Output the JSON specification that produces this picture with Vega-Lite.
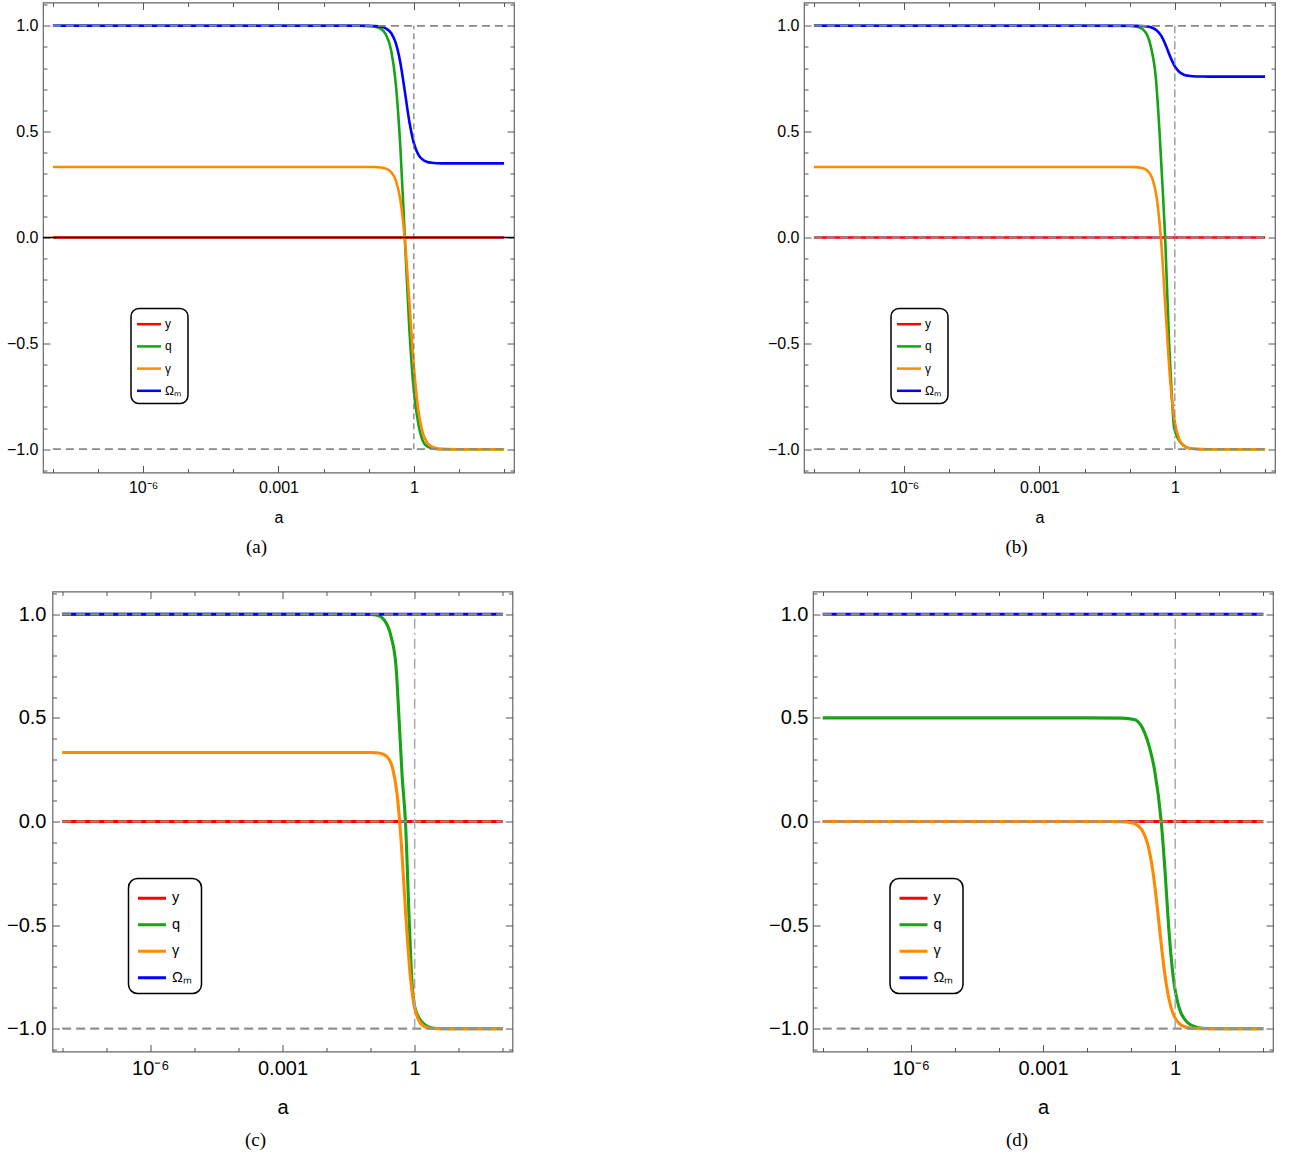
{
  "$schema": "https://vega.github.io/schema/vega-lite/v6.json",
  "background": "white",
  "padding": {"left": 4, "top": 0.5, "right": 5, "bottom": 5},
  "config": {"view": {"stroke": "#666", "strokeWidth": 1.2}, "font": "Liberation Sans", "legend": {"strokeWidth": 1.5}},
  "datasets": {
    "pa": [
      {"s":"y","a":1e-8,"v":0},{"s":"y","a":100,"v":0},
      {"s":"q","a":1e-8,"v":1},{"s":"q","a":0.01,"v":1},{"s":"q","a":0.031623,"v":1},{"s":"q","a":0.056234,"v":0.9999},{"s":"q","a":0.1,"v":0.9987},{"s":"q","a":0.13335,"v":0.996},{"s":"q","a":0.17783,"v":0.9875},{"s":"q","a":0.23714,"v":0.961},{"s":"q","a":0.31623,"v":0.881},{"s":"q","a":0.39811,"v":0.726},{"s":"q","a":0.50119,"v":0.431},{"s":"q","a":0.63096,"v":0},{"s":"q","a":0.79433,"v":-0.431},{"s":"q","a":1,"v":-0.726},{"s":"q","a":1.2589,"v":-0.881},{"s":"q","a":1.5849,"v":-0.961},{"s":"q","a":1.9953,"v":-0.9875},{"s":"q","a":2.5119,"v":-0.996},{"s":"q","a":3.1623,"v":-0.9987},{"s":"q","a":4.217,"v":-0.9997},{"s":"q","a":5.6234,"v":-1},{"s":"q","a":10,"v":-1},{"s":"q","a":100,"v":-1},
      {"s":"γ","a":1e-8,"v":0.3333},{"s":"γ","a":0.01,"v":0.3333},{"s":"γ","a":0.031623,"v":0.3333},{"s":"γ","a":0.056234,"v":0.3333},{"s":"γ","a":0.1,"v":0.3331},{"s":"γ","a":0.13335,"v":0.3327},{"s":"γ","a":0.17783,"v":0.331},{"s":"γ","a":0.23714,"v":0.326},{"s":"γ","a":0.31623,"v":0.3085},{"s":"γ","a":0.39811,"v":0.27},{"s":"γ","a":0.50119,"v":0.179},{"s":"γ","a":0.63096,"v":-0.009},{"s":"γ","a":0.79433,"v":-0.301},{"s":"γ","a":1,"v":-0.606},{"s":"γ","a":1.2589,"v":-0.817},{"s":"γ","a":1.5849,"v":-0.924},{"s":"γ","a":1.9953,"v":-0.97},{"s":"γ","a":2.5119,"v":-0.988},{"s":"γ","a":3.1623,"v":-0.996},{"s":"γ","a":4.217,"v":-0.999},{"s":"γ","a":5.6234,"v":-0.9996},{"s":"γ","a":10,"v":-1},{"s":"γ","a":100,"v":-1},
      {"s":"Ωₘ","a":1e-8,"v":1},{"s":"Ωₘ","a":0.01,"v":1},{"s":"Ωₘ","a":0.031623,"v":1},{"s":"Ωₘ","a":0.056234,"v":1},{"s":"Ωₘ","a":0.1,"v":0.9996},{"s":"Ωₘ","a":0.13335,"v":0.9988},{"s":"Ωₘ","a":0.17783,"v":0.9963},{"s":"Ωₘ","a":0.23714,"v":0.9884},{"s":"Ωₘ","a":0.31623,"v":0.9646},{"s":"Ωₘ","a":0.39811,"v":0.918},{"s":"Ωₘ","a":0.50119,"v":0.827},{"s":"Ωₘ","a":0.63096,"v":0.69},{"s":"Ωₘ","a":0.79433,"v":0.548},{"s":"Ωₘ","a":1,"v":0.446},{"s":"Ωₘ","a":1.2589,"v":0.392},{"s":"Ωₘ","a":1.5849,"v":0.367},{"s":"Ωₘ","a":1.9953,"v":0.357},{"s":"Ωₘ","a":2.5119,"v":0.353},{"s":"Ωₘ","a":3.1623,"v":0.351},{"s":"Ωₘ","a":4.217,"v":0.3503},{"s":"Ωₘ","a":5.6234,"v":0.3501},{"s":"Ωₘ","a":10,"v":0.35},{"s":"Ωₘ","a":100,"v":0.35}
    ],
    "pb": [
      {"s":"y","a":1e-8,"v":0},{"s":"y","a":100,"v":0},
      {"s":"q","a":1e-8,"v":1},{"s":"q","a":0.01,"v":1},{"s":"q","a":0.1,"v":0.999},{"s":"q","a":0.15849,"v":0.993},{"s":"q","a":0.22387,"v":0.97},{"s":"q","a":0.29512,"v":0.9},{"s":"q","a":0.38019,"v":0.75},{"s":"q","a":0.45709,"v":0.5},{"s":"q","a":0.53088,"v":0.25},{"s":"q","a":0.60954,"v":0},{"s":"q","a":0.74645,"v":-0.5},{"s":"q","a":0.85704,"v":-0.75},{"s":"q","a":0.96605,"v":-0.9},{"s":"q","a":1.349,"v":-0.97},{"s":"q","a":1.7783,"v":-0.99},{"s":"q","a":2.4547,"v":-0.998},{"s":"q","a":3.9811,"v":-1},{"s":"q","a":100,"v":-1},
      {"s":"γ","a":1e-8,"v":0.3333},{"s":"γ","a":0.01,"v":0.3333},{"s":"γ","a":0.031623,"v":0.3333},{"s":"γ","a":0.056234,"v":0.3333},{"s":"γ","a":0.1,"v":0.3331},{"s":"γ","a":0.13335,"v":0.3324},{"s":"γ","a":0.17783,"v":0.3296},{"s":"γ","a":0.23714,"v":0.3189},{"s":"γ","a":0.31623,"v":0.279},{"s":"γ","a":0.39811,"v":0.185},{"s":"γ","a":0.50119,"v":-0.027},{"s":"γ","a":0.63096,"v":-0.362},{"s":"γ","a":0.79433,"v":-0.684},{"s":"γ","a":1,"v":-0.873},{"s":"γ","a":1.2589,"v":-0.954},{"s":"γ","a":1.5849,"v":-0.984},{"s":"γ","a":1.9953,"v":-0.9946},{"s":"γ","a":2.5119,"v":-0.998},{"s":"γ","a":3.1623,"v":-0.9994},{"s":"γ","a":4.217,"v":-0.9998},{"s":"γ","a":5.6234,"v":-1},{"s":"γ","a":10,"v":-1},{"s":"γ","a":100,"v":-1},
      {"s":"Ωₘ","a":1e-8,"v":1},{"s":"Ωₘ","a":0.01,"v":1},{"s":"Ωₘ","a":0.031623,"v":1},{"s":"Ωₘ","a":0.056234,"v":1},{"s":"Ωₘ","a":0.1,"v":0.9999},{"s":"Ωₘ","a":0.13335,"v":0.9997},{"s":"Ωₘ","a":0.17783,"v":0.999},{"s":"Ωₘ","a":0.23714,"v":0.997},{"s":"Ωₘ","a":0.31623,"v":0.9908},{"s":"Ωₘ","a":0.39811,"v":0.978},{"s":"Ωₘ","a":0.50119,"v":0.952},{"s":"Ωₘ","a":0.63096,"v":0.907},{"s":"Ωₘ","a":0.79433,"v":0.853},{"s":"Ωₘ","a":1,"v":0.808},{"s":"Ωₘ","a":1.2589,"v":0.782},{"s":"Ωₘ","a":1.5849,"v":0.769},{"s":"Ωₘ","a":1.9953,"v":0.764},{"s":"Ωₘ","a":2.5119,"v":0.7615},{"s":"Ωₘ","a":3.1623,"v":0.7606},{"s":"Ωₘ","a":4.217,"v":0.7602},{"s":"Ωₘ","a":5.6234,"v":0.7601},{"s":"Ωₘ","a":10,"v":0.76},{"s":"Ωₘ","a":100,"v":0.76}
    ],
    "pc": [
      {"s":"y","a":1e-8,"v":0},{"s":"y","a":100,"v":0},
      {"s":"q","a":1e-8,"v":1},{"s":"q","a":0.01,"v":1},{"s":"q","a":0.1,"v":0.999},{"s":"q","a":0.14125,"v":0.995},{"s":"q","a":0.19953,"v":0.975},{"s":"q","a":0.2851,"v":0.9},{"s":"q","a":0.3767,"v":0.75},{"s":"q","a":0.44055,"v":0.5},{"s":"q","a":0.5188,"v":0.22},{"s":"q","a":0.6166,"v":0},{"s":"q","a":0.75858,"v":-0.5},{"s":"q","a":0.85507,"v":-0.75},{"s":"q","a":1.0163,"v":-0.9},{"s":"q","a":1.4928,"v":-0.97},{"s":"q","a":1.9953,"v":-0.99},{"s":"q","a":2.7542,"v":-0.998},{"s":"q","a":3.9811,"v":-1},{"s":"q","a":100,"v":-1},
      {"s":"γ","a":1e-8,"v":0.3333},{"s":"γ","a":0.01,"v":0.3333},{"s":"γ","a":0.031623,"v":0.3333},{"s":"γ","a":0.056234,"v":0.3333},{"s":"γ","a":0.1,"v":0.3329},{"s":"γ","a":0.13335,"v":0.3318},{"s":"γ","a":0.17783,"v":0.3276},{"s":"γ","a":0.23714,"v":0.312},{"s":"γ","a":0.31623,"v":0.2566},{"s":"γ","a":0.39811,"v":0.1336},{"s":"γ","a":0.50119,"v":-0.116},{"s":"γ","a":0.63096,"v":-0.459},{"s":"γ","a":0.79433,"v":-0.745},{"s":"γ","a":1,"v":-0.899},{"s":"γ","a":1.2589,"v":-0.963},{"s":"γ","a":1.5849,"v":-0.987},{"s":"γ","a":1.9953,"v":-0.9954},{"s":"γ","a":2.5119,"v":-0.998},{"s":"γ","a":3.1623,"v":-0.9995},{"s":"γ","a":4.217,"v":-0.9999},{"s":"γ","a":5.6234,"v":-1},{"s":"γ","a":10,"v":-1},{"s":"γ","a":100,"v":-1},
      {"s":"Ωₘ","a":1e-8,"v":1},{"s":"Ωₘ","a":100,"v":1}
    ],
    "pd": [
      {"s":"y","a":1e-8,"v":0},{"s":"y","a":100,"v":0},
      {"s":"q","a":1e-8,"v":0.5},{"s":"q","a":0.01,"v":0.5},{"s":"q","a":0.063096,"v":0.499},{"s":"q","a":0.11749,"v":0.492},{"s":"q","a":0.18197,"v":0.45},{"s":"q","a":0.26669,"v":0.35},{"s":"q","a":0.33963,"v":0.25},{"s":"q","a":0.48195,"v":0},{"s":"q","a":0.59293,"v":-0.25},{"s":"q","a":0.70632,"v":-0.5},{"s":"q","a":0.90157,"v":-0.75},{"s":"q","a":1.2331,"v":-0.9},{"s":"q","a":1.9055,"v":-0.97},{"s":"q","a":2.8184,"v":-0.99},{"s":"q","a":4.1687,"v":-0.998},{"s":"q","a":6.3096,"v":-1},{"s":"q","a":100,"v":-1},
      {"s":"γ","a":1e-8,"v":0},{"s":"γ","a":0.01,"v":0},{"s":"γ","a":0.031623,"v":-0.0001},{"s":"γ","a":0.056234,"v":-0.0008},{"s":"γ","a":0.1,"v":-0.0059},{"s":"γ","a":0.13335,"v":-0.0159},{"s":"γ","a":0.17783,"v":-0.0423},{"s":"γ","a":0.23714,"v":-0.108},{"s":"γ","a":0.31623,"v":-0.249},{"s":"γ","a":0.39811,"v":-0.426},{"s":"γ","a":0.50119,"v":-0.624},{"s":"γ","a":0.63096,"v":-0.788},{"s":"γ","a":0.79433,"v":-0.893},{"s":"γ","a":1,"v":-0.949},{"s":"γ","a":1.2589,"v":-0.977},{"s":"γ","a":1.5849,"v":-0.9894},{"s":"γ","a":1.9953,"v":-0.9952},{"s":"γ","a":2.5119,"v":-0.9979},{"s":"γ","a":3.1623,"v":-0.999},{"s":"γ","a":4.217,"v":-0.9996},{"s":"γ","a":5.6234,"v":-1},{"s":"γ","a":10,"v":-1},{"s":"γ","a":100,"v":-1},
      {"s":"Ωₘ","a":1e-8,"v":1},{"s":"Ωₘ","a":100,"v":1}
    ]
  },
  "spacing": 31,
  "bounds": "full",
  "resolve": {"scale": {"color": "independent"}, "legend": {"color": "independent"}},
  "vconcat": [
    {
      "spacing": 250,
      "bounds": "full",
      "resolve": {"scale": {"color": "independent"}, "legend": {"color": "independent"}},
      "hconcat": [
        {
          "spacing": 0,
          "bounds": "full",
          "resolve": {"scale": {"color": "independent"}, "legend": {"color": "independent"}},
          "hconcat": [
            {"width": 1, "height": 1, "view": {"stroke": null, "fill": null}, "data": {"values": []}, "mark": {"type": "point", "size": 0, "opacity": 0}},
            {
              "width": 471, "height": 470,
              "title": {"text": "(a)", "orient": "bottom", "frame": "group", "anchor": "middle", "dx": -22, "offset": 13, "font": "Liberation Serif", "fontSize": 19, "fontWeight": "normal", "color": "black"},
              "resolve": {"axis": {"x": "independent", "y": "independent"}},
              "layer": [
                {
                  "data": {"name": "pa"},
                  "mark": {"type": "line", "strokeWidth": 2.6, "interpolate": "monotone", "clip": true},
                  "encoding": {
                    "x": {"field": "a", "type": "quantitative", "scale": {"type": "log", "domain": [6.0256e-9, 165.96], "nice": false},
                      "axis": {"orient": "bottom", "values": [1e-8,1e-7,1e-6,1e-5,1e-4,0.001,0.01,0.1,1,10,100],
                        "labelExpr": "(datum.value > 9e-7 && datum.value < 1.1e-6) ? '10⁻⁶' : ((datum.value > 9e-4 && datum.value < 1.1e-3) ? '0.001' : ((datum.value > 0.9 && datum.value < 1.1) ? '1' : ''))",
                        "tickSize": {"condition": {"test": "(datum.value > 9e-7 && datum.value < 1.1e-6) || (datum.value > 9e-4 && datum.value < 1.1e-3) || (datum.value > 0.9 && datum.value < 1.1)", "value": -7}, "value": -4},
                        "labelFontSize": {"condition": {"test": "(datum.value > 9e-7 && datum.value < 1.1e-6) || (datum.value > 9e-4 && datum.value < 1.1e-3) || (datum.value > 0.9 && datum.value < 1.1)", "value": 16}, "value": 0},
                        "tickColor": "#555", "tickWidth": 1, "domain": false, "grid": false,
                        "labelFont": "Liberation Sans", "labelColor": "black", "labelPadding": 13.5, "labelOverlap": false, "labelFlush": false,
                        "title": "a", "titleFont": "Liberation Sans", "titleFontSize": 16, "titleFontWeight": "normal", "titleColor": "black", "titlePadding": 14}},
                    "y": {"field": "v", "type": "quantitative", "scale": {"domain": [-1.11, 1.11], "nice": false, "zero": false},
                      "axis": {"orient": "left", "values": [-1.1,-1,-0.9,-0.8,-0.7,-0.6,-0.5,-0.4,-0.3,-0.2,-0.1,0,0.1,0.2,0.3,0.4,0.5,0.6,0.7,0.8,0.9,1,1.1],
                        "labelExpr": "abs(datum.value*2 - round(datum.value*2)) < 0.001 ? (datum.value < -0.01 ? '−' + format(-datum.value, '.1f') : format(abs(datum.value), '.1f')) : ''",
                        "tickSize": {"condition": {"test": "abs(datum.value*2 - round(datum.value*2)) < 0.001", "value": -7}, "value": -4},
                        "labelFontSize": {"condition": {"test": "abs(datum.value*2 - round(datum.value*2)) < 0.001", "value": 16}, "value": 0},
                        "tickColor": "#555", "tickWidth": 1, "domain": false, "grid": false,
                        "labelFont": "Liberation Sans", "labelColor": "black", "labelPadding": 12, "labelOverlap": false, "labelFlush": false, "title": null}},
                    "color": {"field": "s", "type": "nominal",
                      "scale": {"domain": ["y", "q", "γ", "Ωₘ"], "range": ["#ff0000", "#16a316", "#ff8a00", "#0000ff"]},
                      "legend": {"orient": "none", "legendX": 88, "legendY": 306, "title": null, "fillColor": "white", "strokeColor": "black", "cornerRadius": 8, "padding": 6.7,
                        "symbolType": "M-1.6,0H1.6", "symbolSize": 225, "symbolStrokeWidth": 2.5, "symbolOffset": 2.3, "labelOffset": 7, "rowPadding": 7.2,
                        "labelFont": "Liberation Sans", "labelFontSize": 12, "labelColor": "black"}}
                  }
                },
                {
                  "data": {"values": [{"a1": 1e-8, "a2": 100, "v": 1}, {"a1": 1e-8, "a2": 100, "v": -1}]},
                  "mark": {"type": "rule", "color": "#888", "strokeWidth": 1.8, "strokeDash": [8, 5]},
                  "encoding": {
                    "x": {"field": "a1", "type": "quantitative",
                      "axis": {"orient": "top", "values": [1e-8,1e-7,1e-6,1e-5,1e-4,0.001,0.01,0.1,1,10,100], "labels": false,
                        "tickSize": {"condition": {"test": "(datum.value > 9e-7 && datum.value < 1.1e-6) || (datum.value > 9e-4 && datum.value < 1.1e-3) || (datum.value > 0.9 && datum.value < 1.1)", "value": -7}, "value": -4},
                        "tickColor": "#555", "domain": false, "grid": false, "title": null}},
                    "x2": {"field": "a2"},
                    "y": {"field": "v", "type": "quantitative",
                      "axis": {"orient": "right", "values": [-1.1,-1,-0.9,-0.8,-0.7,-0.6,-0.5,-0.4,-0.3,-0.2,-0.1,0,0.1,0.2,0.3,0.4,0.5,0.6,0.7,0.8,0.9,1,1.1], "labels": false,
                        "tickSize": {"condition": {"test": "abs(datum.value*2 - round(datum.value*2)) < 0.001", "value": -7}, "value": -4},
                        "tickColor": "#555", "domain": false, "grid": false, "title": null}}
                  }
                },
                {
                  "data": {"values": [{}]},
                  "mark": {"type": "rule", "color": "#777", "strokeWidth": 1.2, "strokeDash": [6, 4]},
                  "encoding": {"x": {"datum": 1, "type": "quantitative", "axis": null}, "y": {"datum": -1, "type": "quantitative", "axis": null}, "y2": {"datum": 1}}
                },
                {
                  "data": {"values": [{}]},
                  "mark": {"type": "rule", "color": "black", "strokeWidth": 1.4},
                  "encoding": {"y": {"datum": 0, "type": "quantitative", "axis": null}}
                }
              ]
            }
          ]
        },
        {
          "width": 471, "height": 470,
          "title": {"text": "(b)", "orient": "bottom", "frame": "group", "anchor": "middle", "dx": -23, "offset": 13, "font": "Liberation Serif", "fontSize": 19, "fontWeight": "normal", "color": "black"},
          "resolve": {"axis": {"x": "independent", "y": "independent"}},
          "layer": [
            {
              "data": {"name": "pb"},
              "mark": {"type": "line", "strokeWidth": 2.6, "interpolate": "monotone", "clip": true},
              "encoding": {
                "x": {"field": "a", "type": "quantitative", "scale": {"type": "log", "domain": [6.0256e-9, 165.96], "nice": false},
                  "axis": {"orient": "bottom", "values": [1e-8,1e-7,1e-6,1e-5,1e-4,0.001,0.01,0.1,1,10,100],
                    "labelExpr": "(datum.value > 9e-7 && datum.value < 1.1e-6) ? '10⁻⁶' : ((datum.value > 9e-4 && datum.value < 1.1e-3) ? '0.001' : ((datum.value > 0.9 && datum.value < 1.1) ? '1' : ''))",
                    "tickSize": {"condition": {"test": "(datum.value > 9e-7 && datum.value < 1.1e-6) || (datum.value > 9e-4 && datum.value < 1.1e-3) || (datum.value > 0.9 && datum.value < 1.1)", "value": -7}, "value": -4},
                    "labelFontSize": {"condition": {"test": "(datum.value > 9e-7 && datum.value < 1.1e-6) || (datum.value > 9e-4 && datum.value < 1.1e-3) || (datum.value > 0.9 && datum.value < 1.1)", "value": 16}, "value": 0},
                    "tickColor": "#555", "tickWidth": 1, "domain": false, "grid": false,
                    "labelFont": "Liberation Sans", "labelColor": "black", "labelPadding": 13.5, "labelOverlap": false, "labelFlush": false,
                    "title": "a", "titleFont": "Liberation Sans", "titleFontSize": 16, "titleFontWeight": "normal", "titleColor": "black", "titlePadding": 14}},
                "y": {"field": "v", "type": "quantitative", "scale": {"domain": [-1.11, 1.11], "nice": false, "zero": false},
                  "axis": {"orient": "left", "values": [-1.1,-1,-0.9,-0.8,-0.7,-0.6,-0.5,-0.4,-0.3,-0.2,-0.1,0,0.1,0.2,0.3,0.4,0.5,0.6,0.7,0.8,0.9,1,1.1],
                    "labelExpr": "abs(datum.value*2 - round(datum.value*2)) < 0.001 ? (datum.value < -0.01 ? '−' + format(-datum.value, '.1f') : format(abs(datum.value), '.1f')) : ''",
                    "tickSize": {"condition": {"test": "abs(datum.value*2 - round(datum.value*2)) < 0.001", "value": -7}, "value": -4},
                    "labelFontSize": {"condition": {"test": "abs(datum.value*2 - round(datum.value*2)) < 0.001", "value": 16}, "value": 0},
                    "tickColor": "#555", "tickWidth": 1, "domain": false, "grid": false,
                    "labelFont": "Liberation Sans", "labelColor": "black", "labelPadding": 12, "labelOverlap": false, "labelFlush": false, "title": null}},
                "color": {"field": "s", "type": "nominal",
                  "scale": {"domain": ["y", "q", "γ", "Ωₘ"], "range": ["#ff0000", "#16a316", "#ff8a00", "#0000ff"]},
                  "legend": {"orient": "none", "legendX": 87, "legendY": 306, "title": null, "fillColor": "white", "strokeColor": "black", "cornerRadius": 8, "padding": 6.7,
                    "symbolType": "M-1.6,0H1.6", "symbolSize": 225, "symbolStrokeWidth": 2.5, "symbolOffset": 2.3, "labelOffset": 7, "rowPadding": 7.2,
                    "labelFont": "Liberation Sans", "labelFontSize": 12, "labelColor": "black"}}
              }
            },
            {
              "data": {"values": [{"a1": 1e-8, "a2": 100, "v": 1}, {"a1": 1e-8, "a2": 100, "v": 0}, {"a1": 1e-8, "a2": 100, "v": -1}]},
              "mark": {"type": "rule", "color": "#888", "strokeWidth": 1.8, "strokeDash": [8, 5]},
              "encoding": {
                "x": {"field": "a1", "type": "quantitative",
                  "axis": {"orient": "top", "values": [1e-8,1e-7,1e-6,1e-5,1e-4,0.001,0.01,0.1,1,10,100], "labels": false,
                    "tickSize": {"condition": {"test": "(datum.value > 9e-7 && datum.value < 1.1e-6) || (datum.value > 9e-4 && datum.value < 1.1e-3) || (datum.value > 0.9 && datum.value < 1.1)", "value": -7}, "value": -4},
                    "tickColor": "#555", "domain": false, "grid": false, "title": null}},
                "x2": {"field": "a2"},
                "y": {"field": "v", "type": "quantitative",
                  "axis": {"orient": "right", "values": [-1.1,-1,-0.9,-0.8,-0.7,-0.6,-0.5,-0.4,-0.3,-0.2,-0.1,0,0.1,0.2,0.3,0.4,0.5,0.6,0.7,0.8,0.9,1,1.1], "labels": false,
                    "tickSize": {"condition": {"test": "abs(datum.value*2 - round(datum.value*2)) < 0.001", "value": -7}, "value": -4},
                    "tickColor": "#555", "domain": false, "grid": false, "title": null}}
              }
            },
            {
              "data": {"values": [{}]},
              "mark": {"type": "rule", "color": "#888", "strokeWidth": 1.2, "strokeDash": [8, 3, 2, 3]},
              "encoding": {"x": {"datum": 1, "type": "quantitative", "axis": null}, "y": {"datum": -1, "type": "quantitative", "axis": null}, "y2": {"datum": 1}}
            }
          ]
        }
      ]
    },
    {
      "spacing": 253,
      "bounds": "full",
      "resolve": {"scale": {"color": "independent"}, "legend": {"color": "independent"}},
      "hconcat": [
        {
          "spacing": 0.5,
          "bounds": "full",
          "resolve": {"scale": {"color": "independent"}, "legend": {"color": "independent"}},
          "hconcat": [
            {"width": 1, "height": 1, "view": {"stroke": null, "fill": null}, "data": {"values": []}, "mark": {"type": "point", "size": 0, "opacity": 0}},
            {
              "width": 460, "height": 460,
              "title": {"text": "(c)", "orient": "bottom", "frame": "group", "anchor": "middle", "dx": -27, "offset": 13, "font": "Liberation Serif", "fontSize": 19, "fontWeight": "normal", "color": "black"},
              "resolve": {"axis": {"x": "independent", "y": "independent"}},
              "layer": [
                {
                  "data": {"name": "pc"},
                  "mark": {"type": "line", "strokeWidth": 3.1, "interpolate": "monotone", "clip": true},
                  "encoding": {
                    "x": {"field": "a", "type": "quantitative", "scale": {"type": "log", "domain": [6.0256e-9, 165.96], "nice": false},
                      "axis": {"orient": "bottom", "values": [1e-8,1e-7,1e-6,1e-5,1e-4,0.001,0.01,0.1,1,10,100],
                        "labelExpr": "(datum.value > 9e-7 && datum.value < 1.1e-6) ? '10⁻⁶' : ((datum.value > 9e-4 && datum.value < 1.1e-3) ? '0.001' : ((datum.value > 0.9 && datum.value < 1.1) ? '1' : ''))",
                        "tickSize": {"condition": {"test": "(datum.value > 9e-7 && datum.value < 1.1e-6) || (datum.value > 9e-4 && datum.value < 1.1e-3) || (datum.value > 0.9 && datum.value < 1.1)", "value": -7}, "value": -4},
                        "labelFontSize": {"condition": {"test": "(datum.value > 9e-7 && datum.value < 1.1e-6) || (datum.value > 9e-4 && datum.value < 1.1e-3) || (datum.value > 0.9 && datum.value < 1.1)", "value": 20}, "value": 0},
                        "tickColor": "#555", "tickWidth": 1, "domain": false, "grid": false,
                        "labelFont": "Liberation Sans", "labelColor": "black", "labelPadding": 14, "labelOverlap": false, "labelFlush": false,
                        "title": "a", "titleFont": "Liberation Sans", "titleFontSize": 20, "titleFontWeight": "normal", "titleColor": "black", "titlePadding": 19}},
                    "y": {"field": "v", "type": "quantitative", "scale": {"domain": [-1.11, 1.11], "nice": false, "zero": false},
                      "axis": {"orient": "left", "values": [-1.1,-1,-0.9,-0.8,-0.7,-0.6,-0.5,-0.4,-0.3,-0.2,-0.1,0,0.1,0.2,0.3,0.4,0.5,0.6,0.7,0.8,0.9,1,1.1],
                        "labelExpr": "abs(datum.value*2 - round(datum.value*2)) < 0.001 ? (datum.value < -0.01 ? '−' + format(-datum.value, '.1f') : format(abs(datum.value), '.1f')) : ''",
                        "tickSize": {"condition": {"test": "abs(datum.value*2 - round(datum.value*2)) < 0.001", "value": -7}, "value": -4},
                        "labelFontSize": {"condition": {"test": "abs(datum.value*2 - round(datum.value*2)) < 0.001", "value": 20}, "value": 0},
                        "tickColor": "#555", "tickWidth": 1, "domain": false, "grid": false,
                        "labelFont": "Liberation Sans", "labelColor": "black", "labelPadding": 13.5, "labelOverlap": false, "labelFlush": false, "title": null}},
                    "color": {"field": "s", "type": "nominal",
                      "scale": {"domain": ["y", "q", "γ", "Ωₘ"], "range": ["#ff0000", "#16a316", "#ff8a00", "#0000ff"]},
                      "legend": {"orient": "none", "legendX": 76, "legendY": 287, "title": null, "fillColor": "white", "strokeColor": "black", "cornerRadius": 9, "padding": 9.25,
                        "symbolType": "M-1.6,0H1.6", "symbolSize": 306, "symbolStrokeWidth": 3, "symbolOffset": 3.75, "labelOffset": 9.5, "rowPadding": 9.5,
                        "labelFont": "Liberation Sans", "labelFontSize": 14.5, "labelColor": "black"}}
                  }
                },
                {
                  "data": {"values": [{"a1": 1e-8, "a2": 100, "v": 1}, {"a1": 1e-8, "a2": 100, "v": 0}, {"a1": 1e-8, "a2": 100, "v": -1}]},
                  "mark": {"type": "rule", "color": "#909090", "strokeWidth": 2.2, "strokeDash": [9, 5]},
                  "encoding": {
                    "x": {"field": "a1", "type": "quantitative",
                      "axis": {"orient": "top", "values": [1e-8,1e-7,1e-6,1e-5,1e-4,0.001,0.01,0.1,1,10,100], "labels": false,
                        "tickSize": {"condition": {"test": "(datum.value > 9e-7 && datum.value < 1.1e-6) || (datum.value > 9e-4 && datum.value < 1.1e-3) || (datum.value > 0.9 && datum.value < 1.1)", "value": -7}, "value": -4},
                        "tickColor": "#555", "domain": false, "grid": false, "title": null}},
                    "x2": {"field": "a2"},
                    "y": {"field": "v", "type": "quantitative",
                      "axis": {"orient": "right", "values": [-1.1,-1,-0.9,-0.8,-0.7,-0.6,-0.5,-0.4,-0.3,-0.2,-0.1,0,0.1,0.2,0.3,0.4,0.5,0.6,0.7,0.8,0.9,1,1.1], "labels": false,
                        "tickSize": {"condition": {"test": "abs(datum.value*2 - round(datum.value*2)) < 0.001", "value": -7}, "value": -4},
                        "tickColor": "#555", "domain": false, "grid": false, "title": null}}
                  }
                },
                {
                  "data": {"values": [{}]},
                  "mark": {"type": "rule", "color": "#aaa", "strokeWidth": 1.5, "strokeDash": [10, 4, 2, 4]},
                  "encoding": {"x": {"datum": 1, "type": "quantitative", "axis": null}, "y": {"datum": -1, "type": "quantitative", "axis": null}, "y2": {"datum": 1}}
                }
              ]
            }
          ]
        },
        {
          "width": 460, "height": 460,
          "title": {"text": "(d)", "orient": "bottom", "frame": "group", "anchor": "middle", "dx": -26, "offset": 13, "font": "Liberation Serif", "fontSize": 19, "fontWeight": "normal", "color": "black"},
          "resolve": {"axis": {"x": "independent", "y": "independent"}},
          "layer": [
            {
              "data": {"name": "pd"},
              "mark": {"type": "line", "strokeWidth": 3.1, "interpolate": "monotone", "clip": true},
              "encoding": {
                "x": {"field": "a", "type": "quantitative", "scale": {"type": "log", "domain": [6.0256e-9, 165.96], "nice": false},
                  "axis": {"orient": "bottom", "values": [1e-8,1e-7,1e-6,1e-5,1e-4,0.001,0.01,0.1,1,10,100],
                    "labelExpr": "(datum.value > 9e-7 && datum.value < 1.1e-6) ? '10⁻⁶' : ((datum.value > 9e-4 && datum.value < 1.1e-3) ? '0.001' : ((datum.value > 0.9 && datum.value < 1.1) ? '1' : ''))",
                    "tickSize": {"condition": {"test": "(datum.value > 9e-7 && datum.value < 1.1e-6) || (datum.value > 9e-4 && datum.value < 1.1e-3) || (datum.value > 0.9 && datum.value < 1.1)", "value": -7}, "value": -4},
                    "labelFontSize": {"condition": {"test": "(datum.value > 9e-7 && datum.value < 1.1e-6) || (datum.value > 9e-4 && datum.value < 1.1e-3) || (datum.value > 0.9 && datum.value < 1.1)", "value": 20}, "value": 0},
                    "tickColor": "#555", "tickWidth": 1, "domain": false, "grid": false,
                    "labelFont": "Liberation Sans", "labelColor": "black", "labelPadding": 14, "labelOverlap": false, "labelFlush": false,
                    "title": "a", "titleFont": "Liberation Sans", "titleFontSize": 20, "titleFontWeight": "normal", "titleColor": "black", "titlePadding": 19}},
                "y": {"field": "v", "type": "quantitative", "scale": {"domain": [-1.11, 1.11], "nice": false, "zero": false},
                  "axis": {"orient": "left", "values": [-1.1,-1,-0.9,-0.8,-0.7,-0.6,-0.5,-0.4,-0.3,-0.2,-0.1,0,0.1,0.2,0.3,0.4,0.5,0.6,0.7,0.8,0.9,1,1.1],
                    "labelExpr": "abs(datum.value*2 - round(datum.value*2)) < 0.001 ? (datum.value < -0.01 ? '−' + format(-datum.value, '.1f') : format(abs(datum.value), '.1f')) : ''",
                    "tickSize": {"condition": {"test": "abs(datum.value*2 - round(datum.value*2)) < 0.001", "value": -7}, "value": -4},
                    "labelFontSize": {"condition": {"test": "abs(datum.value*2 - round(datum.value*2)) < 0.001", "value": 20}, "value": 0},
                    "tickColor": "#555", "tickWidth": 1, "domain": false, "grid": false,
                    "labelFont": "Liberation Sans", "labelColor": "black", "labelPadding": 12, "labelOverlap": false, "labelFlush": false, "title": null}},
                "color": {"field": "s", "type": "nominal",
                  "scale": {"domain": ["y", "q", "γ", "Ωₘ"], "range": ["#ff0000", "#16a316", "#ff8a00", "#0000ff"]},
                  "legend": {"orient": "none", "legendX": 77, "legendY": 287, "title": null, "fillColor": "white", "strokeColor": "black", "cornerRadius": 9, "padding": 9.25,
                    "symbolType": "M-1.6,0H1.6", "symbolSize": 306, "symbolStrokeWidth": 3, "symbolOffset": 3.75, "labelOffset": 9.5, "rowPadding": 9.5,
                    "labelFont": "Liberation Sans", "labelFontSize": 14.5, "labelColor": "black"}}
              }
            },
            {
              "data": {"values": [{"a1": 1e-8, "a2": 100, "v": 1}, {"a1": 1e-8, "a2": 100, "v": 0}, {"a1": 1e-8, "a2": 100, "v": -1}]},
              "mark": {"type": "rule", "color": "#909090", "strokeWidth": 2.2, "strokeDash": [9, 5]},
              "encoding": {
                "x": {"field": "a1", "type": "quantitative",
                  "axis": {"orient": "top", "values": [1e-8,1e-7,1e-6,1e-5,1e-4,0.001,0.01,0.1,1,10,100], "labels": false,
                    "tickSize": {"condition": {"test": "(datum.value > 9e-7 && datum.value < 1.1e-6) || (datum.value > 9e-4 && datum.value < 1.1e-3) || (datum.value > 0.9 && datum.value < 1.1)", "value": -7}, "value": -4},
                    "tickColor": "#555", "domain": false, "grid": false, "title": null}},
                "x2": {"field": "a2"},
                "y": {"field": "v", "type": "quantitative",
                  "axis": {"orient": "right", "values": [-1.1,-1,-0.9,-0.8,-0.7,-0.6,-0.5,-0.4,-0.3,-0.2,-0.1,0,0.1,0.2,0.3,0.4,0.5,0.6,0.7,0.8,0.9,1,1.1], "labels": false,
                    "tickSize": {"condition": {"test": "abs(datum.value*2 - round(datum.value*2)) < 0.001", "value": -7}, "value": -4},
                    "tickColor": "#555", "domain": false, "grid": false, "title": null}}
              }
            },
            {
              "data": {"values": [{}]},
              "mark": {"type": "rule", "color": "#aaa", "strokeWidth": 1.5, "strokeDash": [10, 4, 2, 4]},
              "encoding": {"x": {"datum": 1, "type": "quantitative", "axis": null}, "y": {"datum": -1, "type": "quantitative", "axis": null}, "y2": {"datum": 1}}
            }
          ]
        }
      ]
    }
  ]
}
